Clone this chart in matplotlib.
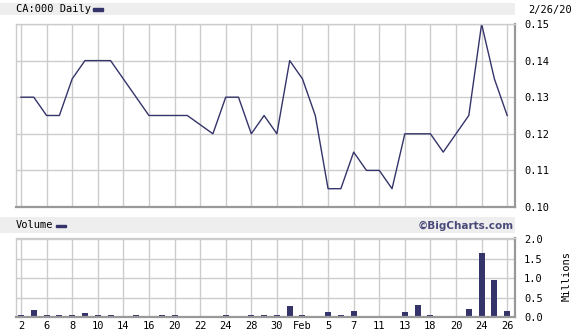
import matplotlib
matplotlib.use("Agg")
import matplotlib.pyplot as plt
import numpy as np

# ---- data ----
days = ["2","3","6","7","8","9","10","13","14","15","16","17","20","21","22","23","24",
        "27","28","29","30","31","Feb","4","5","6","7","10","11","12","13","14","18","19",
        "20","21","24","25","26"]
price = [0.130, 0.130, 0.125, 0.125, 0.135, 0.140, 0.140, 0.140, 0.135, 0.130, 0.125,
         0.125, 0.125, 0.125, 0.1225, 0.120, 0.130, 0.130, 0.120, 0.125, 0.120, 0.140,
         0.135, 0.125, 0.105, 0.105, 0.115, 0.110, 0.110, 0.105, 0.120, 0.120, 0.120,
         0.115, 0.120, 0.125, 0.150, 0.135, 0.125]
volume = [0.04, 0.19, 0.06, 0.04, 0.04, 0.09, 0.04, 0.04, 0.0, 0.04, 0.0, 0.04, 0.04,
          0.0, 0.0, 0.0, 0.06, 0.0, 0.06, 0.04, 0.04, 0.28, 0.04, 0.0, 0.13, 0.04, 0.15,
          0.0, 0.0, 0.0, 0.13, 0.31, 0.06, 0.0, 0.0, 0.21, 1.65, 0.95, 0.15]
tick_idx = list(range(0, 39, 2))
tick_labels = ["2","6","8","10","14","16","20","22","24","28","30","Feb","5","7","11",
               "13","18","20","24","26"]
price_ticks = [0.10, 0.11, 0.12, 0.13, 0.14, 0.15]
vol_ticks = [0.0, 0.5, 1.0, 1.5, 2.0]

W, H = 579, 335
NAVY = "#34346a"
GRID = "#cccccc"
BAND = "#eeeeee"
mono = "DejaVu Sans Mono"
fs = 7.5

fig = plt.figure(figsize=(W/100, H/100), dpi=100)
fig.patch.set_facecolor("white")

def px_axes(l, t, r, b, **kw):
    return fig.add_axes([l/W, 1 - b/H, (r-l)/W, (b-t)/H], **kw)

# header bands
band1 = px_axes(0, 3, 515, 15)
band2 = px_axes(0, 217, 515, 233)
for bd in (band1, band2):
    bd.set_facecolor(BAND)
    bd.set_xticks([]); bd.set_yticks([])
    for s in bd.spines.values():
        s.set_visible(False)

fig.text(16/W, 1 - 9.5/H, "CA:000 Daily", family=mono, fontsize=fs, va="center", ha="left")
fig.patches.append(matplotlib.patches.Rectangle((93/W, 1 - 11/H), 10/W, 2.5/H,
                   transform=fig.transFigure, color=NAVY))
fig.text(572/W, 1 - 9.5/H, "2/26/20", family=mono, fontsize=fs, va="center", ha="right")
fig.text(16/W, 1 - 225.5/H, "Volume", family=mono, fontsize=fs, va="center", ha="left")
fig.patches.append(matplotlib.patches.Rectangle((56/W, 1 - 227/H), 10/W, 2.5/H,
                   transform=fig.transFigure, color=NAVY))
fig.text(514/W, 1 - 225.5/H, "\u00a9BigCharts.com", family="DejaVu Sans", fontweight="bold",
         fontsize=7.5, color="#4a4a7a", va="center", ha="right")

x = np.arange(len(days))
xlim = (-0.39, 38.61)

def style(ax):
    ax.set_xlim(*xlim)
    ax.set_facecolor("white")
    ax.set_xticks(tick_idx)
    ax.grid(True, color=GRID, linewidth=1)
    ax.set_axisbelow(True)
    ax.yaxis.tick_right()
    ax.tick_params(length=0, labelsize=fs, pad=6.5)
    ax.spines["left"].set_color(GRID)
    ax.spines["top"].set_color(GRID)
    ax.spines["left"].set_linewidth(1)
    ax.spines["top"].set_linewidth(1)
    ax.spines["right"].set_color("#999999")
    ax.spines["bottom"].set_color("#999999")
    ax.spines["right"].set_linewidth(1.6)
    ax.spines["bottom"].set_linewidth(1.6)

# price panel
ax1 = px_axes(16, 24, 515, 207)
ax1.plot(x, price, color=NAVY, linewidth=1)
ax1.set_ylim(0.10, 0.15)
ax1.set_yticks(price_ticks)
ax1.set_yticklabels([f"{v:.2f}" for v in price_ticks])
style(ax1)
ax1.set_xticklabels([])
for lab in ax1.get_yticklabels():
    lab.set_family(mono)

# volume panel
ax2 = px_axes(16, 238, 515, 317)
ax2.bar(x, volume, width=0.47, color=NAVY)
ax2.set_ylim(0, 2.03)
ax2.set_yticks(vol_ticks)
ax2.set_yticklabels([f"{v:.1f}" for v in vol_ticks])
style(ax2)
ax2.set_xticklabels(tick_labels)
ax2.tick_params(axis="x", pad=3)
for lab in ax2.get_yticklabels() + ax2.get_xticklabels():
    lab.set_family(mono)

fig.text(567/W, 1 - 276/H, "Millions", family=mono, fontsize=fs, rotation=90,
         va="center", ha="center")

fig.savefig("out.png", dpi=100)
